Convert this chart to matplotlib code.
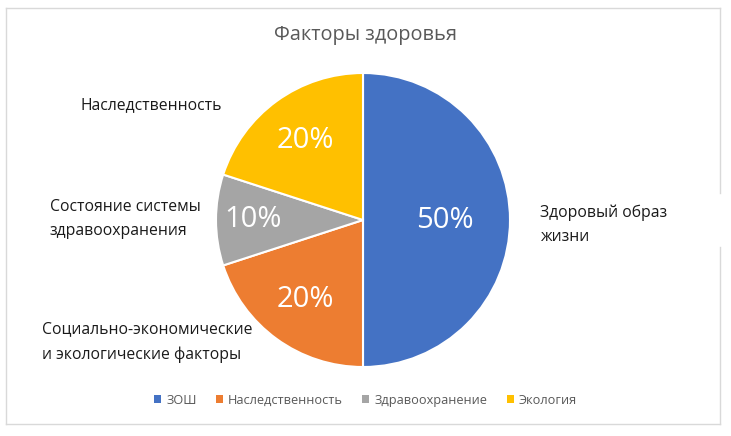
import matplotlib
matplotlib.use("Agg")
import matplotlib.pyplot as plt
from matplotlib.patches import Patch
from matplotlib.lines import Line2D
import numpy as np

plt.rcParams["font.family"] = ["Open Sans", "DejaVu Sans"]

TITLE = "Факторы здоровья"
legend_names = ["ЗОШ", "Наследственность", "Здравоохранение", "Экология"]
shares = [50, 20, 10, 20]
outer_labels = ["Здоровый образ\nжизни",
                "Социально-экономические\nи экологические факторы",
                "Состояние системы\nздравоохранения",
                "Наследственность"]
colors = ["#4472C4", "#ED7D31", "#A5A5A5", "#FFC000"]
# where the percent sits inside each slice, as a fraction of radius
pct_dist = [0.56, 0.67, 0.75, 0.67]

W, H = 731, 436
fig = plt.figure(figsize=(W / 100, H / 100), dpi=100)


def fx(px):
    return px / W


def fy(py):
    return 1 - py / H


# chart border, broken where the right-hand label sits
border = "#D9D9D9"
for xs, ys in [([6, 720], [8, 8]), ([6, 720], [424, 424]), ([6, 6], [8, 424]),
               ([720, 720], [8, 193]), ([720, 720], [247, 424])]:
    fig.add_artist(Line2D([fx(x) for x in xs], [fy(y) for y in ys],
                          color=border, lw=1.0))

cx, cy, r = 363, 220, 147
ax = fig.add_axes([fx(cx - r), fy(cy + r), 2 * r / W, 2 * r / H])
wedges, _ = ax.pie(shares, colors=colors, startangle=90, counterclock=False,
                   wedgeprops=dict(edgecolor="white", linewidth=1.5))
ax.set_aspect("equal")
ax.set_xlim(-1, 1)
ax.set_ylim(-1, 1)

for w, v, d in zip(wedges, shares, pct_dist):
    th = np.deg2rad((w.theta1 + w.theta2) / 2)
    ax.text(d * np.cos(th), d * np.sin(th), f"{v}%", color="white",
            fontsize=21, ha="center", va="center")

fig.text(0.5, fy(35), TITLE, ha="center", va="center", fontsize=14.3,
         color="#595959")

label_pos = [(540, 225), (42, 342), (50, 219), (80, 105)]
for txt, (x, y) in zip(outer_labels, label_pos):
    fig.text(fx(x), fy(y), txt, ha="left", va="center", fontsize=11.3,
             color="#1a1a1a", linespacing=1.7)

handles = [Patch(facecolor=c, edgecolor="none") for c in colors]
fig.legend(handles, legend_names, loc="center", bbox_to_anchor=(0.5, fy(400)),
           ncol=4, frameon=False, fontsize=9.2, handlelength=0.55,
           handleheight=0.55, handletextpad=0.4, columnspacing=1.5,
           labelcolor="#595959")

fig.savefig("out.png", dpi=100)
